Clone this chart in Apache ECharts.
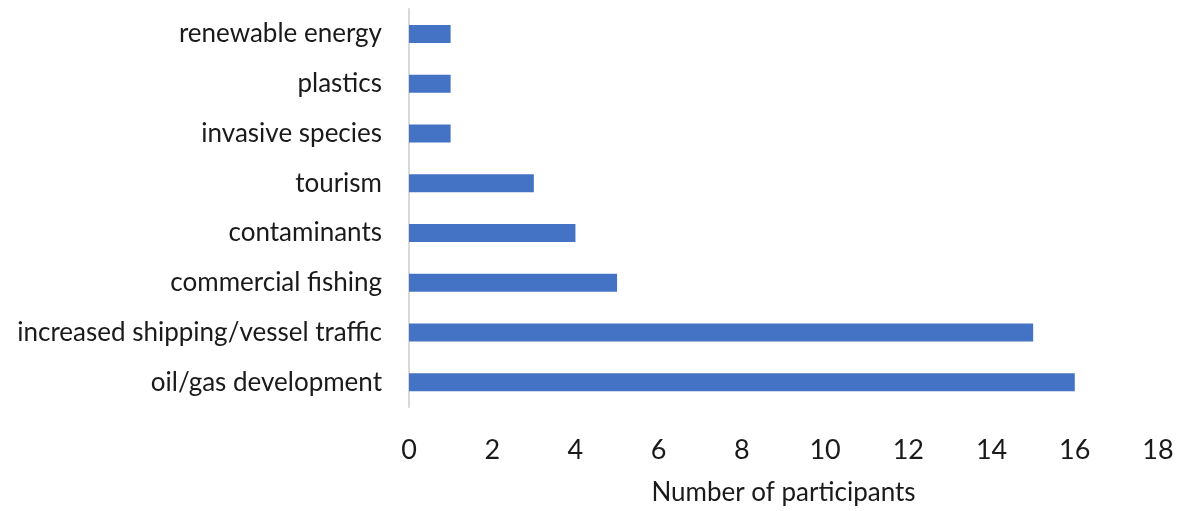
<!DOCTYPE html>
<html>
<head>
<meta charset="utf-8">
<script src="https://cdn.jsdelivr.net/npm/echarts@6/dist/echarts.min.js"></script>
<style>
  html, body { margin: 0; padding: 0; background: #fff; }
  #main { width: 1179px; height: 511px; }
</style>
</head>
<body>
<div id="main"></div>
<script>
// bottom to top, as drawn on the y axis
const categories = [
  'oil/gas development',
  'increased shipping/vessel traffic',
  'commercial fishing',
  'contaminants',
  'tourism',
  'invasive species',
  'plastics',
  'renewable energy',
];
const participants = [16, 15, 5, 4, 3, 1, 1, 1];
const xTicks = { min: 0, max: 18, step: 2 };

const chart = echarts.init(document.getElementById('main'));
const font = 'Lato, "Open Sans", sans-serif';

const option = {
  animation: false,
  grid: { left: 409, right: 21, top: 9, bottom: 103 },
  xAxis: {
    type: 'value',
    min: xTicks.min,
    max: xTicks.max,
    interval: xTicks.step,
    name: 'Number of participants',
    nameLocation: 'middle',
    nameGap: 73,
    nameTextStyle: { fontFamily: font, fontSize: 26, color: '#1a1a1a' },
    axisLine: { show: false },
    axisTick: { show: false },
    splitLine: { show: false },
    axisLabel: { fontFamily: font, fontSize: 27, color: '#1a1a1a', margin: 30 },
  },
  yAxis: {
    type: 'category',
    data: categories,
    axisLine: { show: true, lineStyle: { color: '#d9d9d9', width: 2 } },
    axisTick: { show: false },
    axisLabel: { fontFamily: font, fontSize: 26, color: '#1a1a1a', margin: 27 },
  },
  series: [
    {
      type: 'bar',
      data: participants,
      barWidth: 18,
      itemStyle: { color: '#4472c4' },
    },
  ],
};

chart.setOption(option);
</script>
</body>
</html>
